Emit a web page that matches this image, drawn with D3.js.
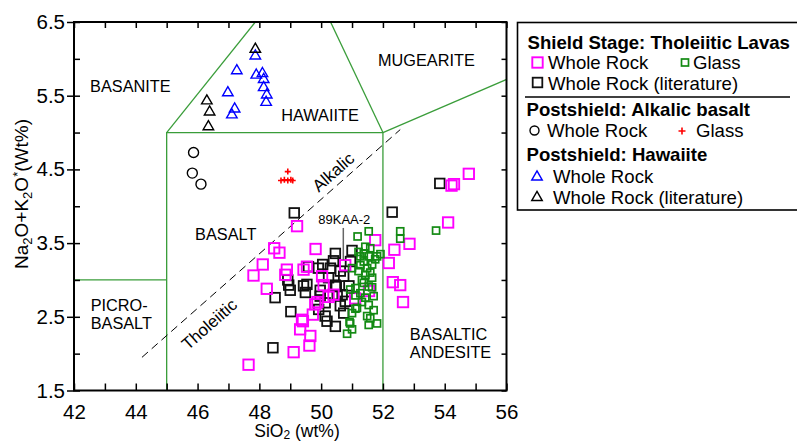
<!DOCTYPE html>
<html>
<head>
<meta charset="utf-8">
<script src="https://cdn.jsdelivr.net/npm/d3@7"></script>
<style>
  html, body { margin: 0; padding: 0; background: #fff; }
  svg { display: block; }
</style>
</head>
<body>
<svg id="chart" width="797" height="442"></svg>
<script>
// Total alkali vs silica diagram: shield and postshield lavas

// Axis ticks
const xTicks = [42, 43, 44, 45, 46, 47, 48, 49, 50, 51, 52, 53, 54, 55, 56];
const xTickLabels = [42, 44, 46, 48, 50, 52, 54, 56];
const yTicks = [1.5, 2.0, 2.5, 3.0, 3.5, 4.0, 4.5, 5.0, 5.5, 6.0, 6.5];
const yTickLabels = [1.5, 2.5, 3.5, 4.5, 5.5, 6.5];

// TAS field boundaries [SiO2, Na2O+K2O]
const fieldPicro = [[42, 3.0], [45, 3.0]];
const fieldBasalt = [[45, 1.5], [45, 5.0], [52, 5.0], [52, 1.5]];
const fieldHawaiiteLeft = [[45, 5.0], [49.4, 7.3]];
const fieldHawaiiteRight = [[52, 5.0], [49.4, 7.3]];
const fieldMugearite = [[52, 5.0], [57, 5.9]];
// Alkalic / tholeiitic divide
const alkalicDivide = [[44.2, 1.95], [52.56, 5.04]];

// Field names: [label lines, SiO2, Na2O+K2O of first baseline]
const fieldNames = [
  [["BASANITE"], 42.52, 5.55],
  [["HAWAIITE"], 48.71, 5.16],
  [["MUGEARITE"], 51.84, 5.90],
  [["BASALT"], 45.92, 3.54],
  [["PICRO-", "BASALT"], 42.54, 2.58],
  [["BASALTIC", "ANDESITE"], 52.87, 2.185]
];

// Divide labels: [text, SiO2, Na2O+K2O at text centre]
const divideNames = [["Alkalic", 50.39, 4.465], ["Tholeiitic", 46.375, 2.40]];

// Shield stage, tholeiitic lavas: whole rock
const shieldWholeRock = [
  [49.22, 3.73], [48.48, 3.43], [48.65, 3.37], [49.82, 3.42], [48.11, 3.21],
  [47.81, 3.06], [48.89, 3.14], [48.84, 3.07], [49.43, 3.14], [49.54, 3.18],
  [50.03, 3.05], [48.24, 2.88], [51.75, 3.54], [52.37, 3.41], [52.19, 3.23],
  [52.32, 2.97], [52.56, 2.93], [52.65, 2.70], [49.81, 2.67], [50.24, 2.77],
  [50.40, 2.80], [49.73, 2.53], [49.38, 2.46], [49.32, 2.33], [49.65, 2.24],
  [49.62, 2.11], [49.11, 2.02], [47.65, 1.85], [50.78, 3.20], [54.78, 4.44],
  [54.22, 4.28], [54.30, 4.30], [54.11, 3.78], [52.86, 3.49], [50.08, 2.93],
  [51.10, 2.75], [51.55, 2.85], [49.88, 2.70], [49.41, 2.44]
];

// Shield stage, tholeiitic lavas: glass
const shieldGlass = [
  [51.54, 3.66], [51.18, 3.59], [51.59, 3.43], [51.27, 3.32], [51.54, 3.32],
  [51.81, 3.32], [51.38, 3.25], [51.75, 3.28], [51.00, 3.16], [51.21, 3.12],
  [51.49, 3.16], [51.65, 3.03], [51.32, 3.00], [51.11, 2.89], [51.38, 2.96],
  [51.54, 2.91], [51.27, 2.82], [50.94, 2.87], [51.43, 2.76], [51.70, 2.78],
  [51.16, 2.62], [51.54, 2.66], [51.49, 2.51], [51.81, 2.41], [51.54, 2.39],
  [50.94, 2.41], [50.92, 2.43], [50.84, 2.27], [51.70, 2.59], [51.11, 2.61],
  [51.11, 2.79], [51.38, 3.36], [51.65, 3.21], [51.43, 3.07], [51.27, 3.20],
  [51.59, 3.10], [51.21, 3.38], [51.32, 2.70], [51.65, 2.90], [51.00, 2.55],
  [51.59, 2.48], [51.43, 3.45], [52.56, 3.66], [52.56, 3.56], [53.72, 3.67],
  [51.92, 3.35], [51.00, 2.33]
];

// Shield stage, tholeiitic lavas: whole rock (literature)
const shieldLiterature = [
  [49.13, 3.91], [52.30, 3.92], [53.84, 4.31], [50.46, 3.36], [51.00, 3.40],
  [50.05, 3.21], [50.30, 3.16], [49.59, 3.18], [49.91, 3.16], [50.62, 3.12],
  [50.73, 3.05], [50.40, 3.26], [48.92, 3.00], [48.95, 2.93], [49.00, 2.86],
  [48.51, 2.76], [49.43, 2.92], [49.49, 2.83], [49.54, 2.94], [49.97, 2.86],
  [49.97, 2.78], [50.24, 3.03], [50.46, 2.93], [50.49, 2.91], [50.68, 2.80],
  [50.52, 2.80], [50.78, 2.71], [50.62, 2.65], [50.13, 2.69], [49.92, 2.60],
  [49.02, 2.57], [50.73, 2.55], [50.19, 2.44], [50.13, 2.51], [50.46, 2.37],
  [48.44, 2.08], [50.90, 2.92], [50.95, 3.25]
];

// Postshield alkalic basalt
const alkalicWholeRock = [[45.87, 4.73], [45.83, 4.45], [46.11, 4.30]];
const alkalicGlass = [[48.70, 4.35], [48.81, 4.36], [48.92, 4.35], [49.02, 4.36], [49.08, 4.35], [48.92, 4.47]];

// Postshield hawaiite
const hawaiiteWholeRock = [
  [47.87, 6.04], [47.27, 5.84], [46.98, 5.54], [47.20, 5.32], [47.11, 5.24],
  [47.90, 5.78], [48.10, 5.80], [48.14, 5.72], [48.14, 5.61], [48.24, 5.51],
  [48.22, 5.41]
];
const hawaiiteLiterature = [[47.87, 6.13], [46.30, 5.43], [46.39, 5.28], [46.35, 5.08]];

// Sample annotation: [name, SiO2, Na2O+K2O of label baseline, leader end]
const sampleNote = ["89KAA-2", 50.75, 3.76, 3.27];

const FONT = "'Liberation Sans', Arial, Helvetica, sans-serif";
const MAGENTA = "#ff00ff", GREEN = "#138a13", FIELD = "#3a9d3a", BLUE = "#0000ff";

const svg = d3.select("#chart");
const L = 74, R = 506.5, T = 22, B = 390.5;
const x = d3.scaleLinear().domain([42, 56]).range([L, R]);
const y = d3.scaleLinear().domain([1.5, 6.5]).range([B, T]);

svg.append("defs").append("clipPath").attr("id", "plotClip")
  .append("rect").attr("x", L).attr("y", T).attr("width", R - L).attr("height", B - T);

const line = d3.line().x(d => x(d[0])).y(d => y(d[1]));

// Field boundaries
const fields = svg.append("g").attr("clip-path", "url(#plotClip)");
[fieldPicro, fieldBasalt, fieldHawaiiteLeft, fieldHawaiiteRight, fieldMugearite].forEach(p => {
  fields.append("path").attr("d", line(p)).attr("fill", "none")
    .attr("stroke", FIELD).attr("stroke-width", 1.3);
});
fields.append("path").attr("d", line(alkalicDivide)).attr("fill", "none")
  .attr("stroke", "#000").attr("stroke-width", 1).attr("stroke-dasharray", "8,5");

// Field names
fieldNames.forEach(([lines, sx, sy]) => {
  const t = svg.append("text").attr("x", x(sx)).attr("y", y(sy))
    .attr("font-family", FONT).attr("font-size", 16.3).attr("fill", "#000");
  lines.forEach((s, i) => t.append("tspan").attr("x", x(sx)).attr("dy", i ? 17.8 : 0).text(s));
});

// Divide labels, rotated along the dashed line
const angle = -Math.atan2(y(alkalicDivide[0][1]) - y(alkalicDivide[1][1]),
                          x(alkalicDivide[1][0]) - x(alkalicDivide[0][0])) * 180 / Math.PI;
divideNames.forEach(([s, sx, sy]) => {
  svg.append("text")
    .attr("transform", `translate(${x(sx)},${y(sy)}) rotate(${angle})`)
    .attr("y", 6).attr("text-anchor", "middle")
    .attr("font-family", FONT).attr("font-size", 17).text(s);
});

// Axes
const axisStyle = g => {
  g.select(".domain").remove();
  g.selectAll("line").attr("stroke", "#000").attr("stroke-width", 1.5);
  g.selectAll("text").attr("font-family", FONT).attr("font-size", 20.5).attr("fill", "#000");
};
svg.append("g").attr("transform", `translate(0,${B})`)
  .call(d3.axisBottom(x).tickValues(xTicks).tickSizeInner(-7).tickSizeOuter(0).tickPadding(13.5)
    .tickFormat(d => xTickLabels.includes(d) ? d : ""))
  .call(axisStyle);
svg.append("g").attr("transform", `translate(0,${T})`)
  .call(d3.axisTop(x).tickValues(xTicks).tickSizeInner(-6).tickSizeOuter(0).tickFormat(""))
  .call(axisStyle);
svg.append("g").attr("transform", `translate(${L},0)`)
  .call(d3.axisLeft(y).tickValues(yTicks).tickSizeInner(-6).tickSizeOuter(0).tickFormat(""))
  .call(axisStyle);
svg.append("g").attr("transform", `translate(${L},0)`)
  .call(d3.axisLeft(y).tickValues(yTickLabels).tickSizeInner(7).tickSizeOuter(0).tickPadding(2)
    .tickFormat(d3.format(".1f")))
  .call(axisStyle);
svg.append("g").attr("transform", `translate(${R},0)`)
  .call(d3.axisRight(y).tickValues(yTicks).tickSizeInner(-5).tickSizeOuter(0).tickFormat(""))
  .call(axisStyle);
svg.append("rect").attr("x", L).attr("y", T).attr("width", R - L).attr("height", B - T)
  .attr("fill", "none").attr("stroke", "#000").attr("stroke-width", 2);

// Axis titles
const xt = svg.append("text").attr("x", 297).attr("y", 437).attr("text-anchor", "middle")
  .attr("font-family", FONT).attr("font-size", 17.5);
xt.append("tspan").text("SiO");
xt.append("tspan").attr("font-size", 12).attr("dy", 2).text("2");
xt.append("tspan").attr("dy", -2).text(" (wt%)");

const yt = svg.append("text").attr("transform", "translate(28,194) rotate(-90)")
  .attr("text-anchor", "middle").attr("font-family", FONT).attr("font-size", 19);
yt.append("tspan").text("Na");
yt.append("tspan").attr("font-size", 13).attr("dy", 4).text("2");
yt.append("tspan").attr("dy", -4).text("O+K");
yt.append("tspan").attr("font-size", 13).attr("dy", 4).text("2");
yt.append("tspan").attr("dy", -4).text("O");
yt.append("tspan").attr("font-size", 13).attr("dy", -6).text("*");
yt.append("tspan").attr("dy", 6).text("(Wt%)");

// Markers
const marks = svg.append("g").attr("clip-path", "url(#plotClip)");
function squares(g, data, side, color, width) {
  g.selectAll(null).data(data).join("rect")
    .attr("x", d => x(d[0]) - side / 2).attr("y", d => y(d[1]) - side / 2)
    .attr("width", side).attr("height", side)
    .attr("fill", "none").attr("stroke", color).attr("stroke-width", width);
}
function triangles(g, data, color) {
  g.selectAll(null).data(data).join("path")
    .attr("transform", d => `translate(${x(d[0])},${y(d[1])})`)
    .attr("d", d3.symbol(d3.symbolTriangle, 48)())
    .attr("fill", "none").attr("stroke", color).attr("stroke-width", 1.4);
}
function pluses(g, data, color, arm) {
  g.selectAll(null).data(data).join("path")
    .attr("d", d => `M${x(d[0]) - arm},${y(d[1])}H${x(d[0]) + arm}M${x(d[0])},${y(d[1]) - arm}V${y(d[1]) + arm}`)
    .attr("fill", "none").attr("stroke", color).attr("stroke-width", 1.6);
}

squares(marks, shieldLiterature, 9.6, "#111", 1.8);
squares(marks, shieldWholeRock, 10.4, MAGENTA, 1.9);
squares(marks, shieldGlass, 7, GREEN, 1.7);
marks.selectAll(null).data(alkalicWholeRock).join("circle")
  .attr("cx", d => x(d[0])).attr("cy", d => y(d[1])).attr("r", 5)
  .attr("fill", "none").attr("stroke", "#000").attr("stroke-width", 1.4);
pluses(marks, alkalicGlass, "#ff0000", 3);
triangles(marks, hawaiiteWholeRock, BLUE);
triangles(marks, hawaiiteLiterature, "#000");

// Sample annotation
svg.append("line").attr("x1", x(sampleNote[1]) - 1).attr("x2", x(sampleNote[1]) - 1)
  .attr("y1", y(sampleNote[2]) + 4).attr("y2", y(sampleNote[3]))
  .attr("stroke", "#666").attr("stroke-width", 1.5);
svg.append("text").attr("x", x(sampleNote[1])).attr("y", y(sampleNote[2]))
  .attr("text-anchor", "middle").attr("font-family", FONT).attr("font-size", 13)
  .text(sampleNote[0]);

// Legend
const lg = svg.append("g");
lg.append("rect").attr("x", 517.5).attr("y", 22.5).attr("width", 300).attr("height", 187.5)
  .attr("fill", "#fff").attr("stroke", "#000").attr("stroke-width", 1.6);
lg.append("line").attr("x1", 525).attr("x2", 790).attr("y1", 97).attr("y2", 97)
  .attr("stroke", "#000").attr("stroke-width", 1.5);
const lt = (s, px, py, bold) => lg.append("text").attr("x", px).attr("y", py)
  .attr("font-family", FONT).attr("font-size", 18.6).attr("font-weight", bold ? "bold" : "normal").text(s);
lt("Shield Stage: Tholeiitic Lavas", 527.5, 48.5, true);
lg.append("rect").attr("x", 532.3).attr("y", 57.3).attr("width", 10.4).attr("height", 10.4)
  .attr("fill", "none").attr("stroke", MAGENTA).attr("stroke-width", 1.9);
lt("Whole Rock", 548, 68.5);
lg.append("rect").attr("x", 681.5).attr("y", 59).attr("width", 7).attr("height", 7)
  .attr("fill", "none").attr("stroke", GREEN).attr("stroke-width", 1.7);
lt("Glass", 693, 68.5);
lg.append("rect").attr("x", 532.7).attr("y", 77.7).attr("width", 9.6).attr("height", 9.6)
  .attr("fill", "none").attr("stroke", "#111").attr("stroke-width", 1.8);
lt("Whole Rock (literature)", 548, 89.5);
lt("Postshield: Alkalic basalt", 526.5, 115.5, true);
lg.append("circle").attr("cx", 534.5).attr("cy", 130.5).attr("r", 4.5)
  .attr("fill", "none").attr("stroke", "#000").attr("stroke-width", 1.4);
lt("Whole Rock", 547, 137);
lg.append("path").attr("d", "M678.5,131H685.5M682,127.5V134.5")
  .attr("stroke", "#ff0000").attr("stroke-width", 1.6);
lt("Glass", 696, 137);
lt("Postshield: Hawaiite", 526.5, 160.5, true);
lg.append("path").attr("transform", "translate(537,177)").attr("d", d3.symbol(d3.symbolTriangle, 48)())
  .attr("fill", "none").attr("stroke", BLUE).attr("stroke-width", 1.4);
lt("Whole Rock", 553, 183);
lg.append("path").attr("transform", "translate(537,197.5)").attr("d", d3.symbol(d3.symbolTriangle, 48)())
  .attr("fill", "none").attr("stroke", "#000").attr("stroke-width", 1.4);
lt("Whole Rock (literature)", 553, 203.5);
</script>
</body>
</html>
